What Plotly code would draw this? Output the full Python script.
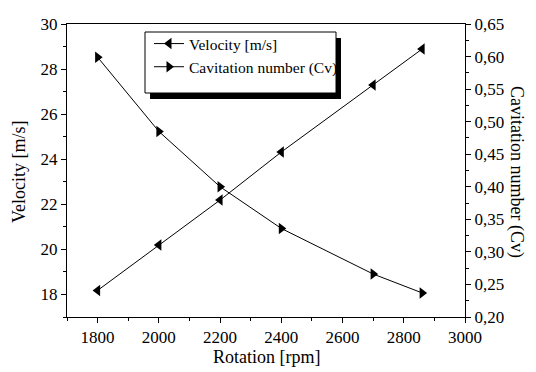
import plotly.graph_objects as go

rotation = [1800, 2000, 2200, 2400, 2700, 2860]
velocity = [18.18, 20.19, 22.19, 24.32, 27.29, 28.89]
cavitation = [0.599, 0.485, 0.400, 0.336, 0.266, 0.237]

FONT = "Times New Roman"
W, H = 536, 372
L, R, T, B = 67, 71, 24, 55
PW, PH = W - L - R, H - T - B

def px(x):
    return (x - L) / PW

def py(y):
    return (H - B - y) / PH

fig = go.Figure()
fig.add_trace(go.Scatter(
    x=rotation, y=velocity, name="Velocity [m/s]", mode="lines+markers",
    line=dict(color="black", width=1),
    marker=dict(symbol="triangle-left", size=10, color="black"),
))
fig.add_trace(go.Scatter(
    x=rotation, y=cavitation, name="Cavitation number (Cv)", mode="lines+markers",
    yaxis="y2",
    line=dict(color="black", width=1),
    marker=dict(symbol="triangle-right", size=10, color="black"),
))

axis_common = dict(
    showgrid=False, zeroline=False, showline=True, linecolor="black", linewidth=1,
    ticks="outside", ticklen=5, tickwidth=1, tickcolor="black",
    tickfont=dict(family=FONT, size=17, color="black"),
)

fig.update_layout(
    width=W, height=H,
    margin=dict(l=L, r=R, t=T, b=B),
    paper_bgcolor="white", plot_bgcolor="white",
    separators=",.",
    font=dict(family=FONT, size=17, color="black"),
    xaxis=dict(range=[1700, 3000], dtick=200, tick0=0, mirror=True,
               minor=dict(dtick=100, ticklen=3, tickcolor="black", ticks="outside"),
               **axis_common),
    yaxis=dict(range=[17, 30], dtick=2, tick0=0, mirror=False,
               minor=dict(dtick=1, ticklen=3, tickcolor="black", ticks="outside"),
               **axis_common),
    yaxis2=dict(range=[0.2, 0.65], dtick=0.05, tick0=0, overlaying="y", side="right",
                tickformat=".2f",
                minor=dict(dtick=0.025, ticklen=3, tickcolor="black", ticks="outside"),
                **axis_common),
    showlegend=True,
    legend=dict(x=px(149), y=py(27), xanchor="left", yanchor="top",
                bgcolor="rgba(0,0,0,0)", borderwidth=0,
                font=dict(family=FONT, size=15.5, color="black"),
                tracegroupgap=0, itemwidth=30),
)

# legend frame with shadow
fig.add_shape(type="rect", xref="paper", yref="paper",
              x0=px(150), x1=px(341), y0=py(99), y1=py(38),
              fillcolor="black", line=dict(width=0), layer="above")
fig.add_shape(type="rect", xref="paper", yref="paper",
              x0=px(145), x1=px(336), y0=py(93), y1=py(32),
              fillcolor="white", line=dict(color="black", width=1), layer="above")

ann = dict(xref="paper", yref="paper", showarrow=False, xanchor="center", yanchor="middle",
           font=dict(family=FONT, size=18, color="black"))
fig.add_annotation(text="Velocity [m/s]", x=px(19), y=py(172), textangle=-90, **ann)
fig.add_annotation(text="Cavitation number (Cv)", x=px(517), y=py(172), textangle=90, **ann)
fig.add_annotation(text="Rotation [rpm]", x=px(266), y=py(357), **ann)

fig.write_html("out.html", config={"displayModeBar": False},
               post_script="document.body.style.margin='0';document.body.style.overflow='hidden';")
